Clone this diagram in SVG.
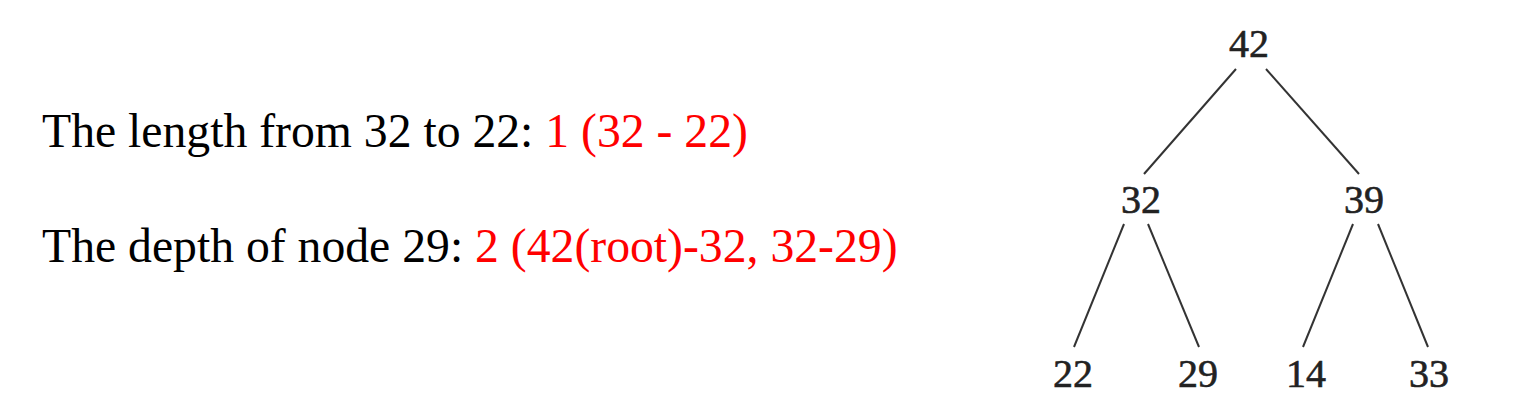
<svg xmlns="http://www.w3.org/2000/svg" width="1527" height="417" viewBox="0 0 1527 417">
<style>
.t{font-family:"Liberation Serif","Times New Roman",serif;font-size:47.7px;fill:#000}
.r{fill:#ff0000}
.n{font-family:"Liberation Serif","Times New Roman",serif;font-size:40px;fill:#222;stroke:#222;stroke-width:0.6;text-anchor:middle}
.e{stroke:#333;stroke-width:2;fill:none}
</style>
<rect width="1527" height="417" fill="#fff"/>
<g id="text-length"><text class="t" x="42" y="147">The length from 32 to 22: <tspan class="r">1 (32 - 22)</tspan></text></g>
<g id="text-depth"><text class="t" x="42" y="262">The depth of node 29: <tspan class="r">2 (42(root)-32, 32-29)</tspan></text></g>
<g id="connectors">
<line class="e" x1="1236" y1="69" x2="1144" y2="174"/>
<line class="e" x1="1266" y1="69" x2="1359" y2="174"/>
<line class="e" x1="1124" y1="224" x2="1074" y2="347"/>
<line class="e" x1="1148" y1="224" x2="1199" y2="347"/>
<line class="e" x1="1353" y1="224" x2="1303" y2="347"/>
<line class="e" x1="1378" y1="224" x2="1428" y2="347"/>
</g>
<g id="node-42"><text class="n" x="1249" y="57">42</text></g>
<g id="node-32"><text class="n" x="1141" y="213">32</text></g>
<g id="node-39"><text class="n" x="1364" y="213">39</text></g>
<g id="node-22"><text class="n" x="1073" y="387">22</text></g>
<g id="node-29"><text class="n" x="1198" y="387">29</text></g>
<g id="node-14"><text class="n" x="1306" y="387">14</text></g>
<g id="node-33"><text class="n" x="1429" y="387">33</text></g>
</svg>
